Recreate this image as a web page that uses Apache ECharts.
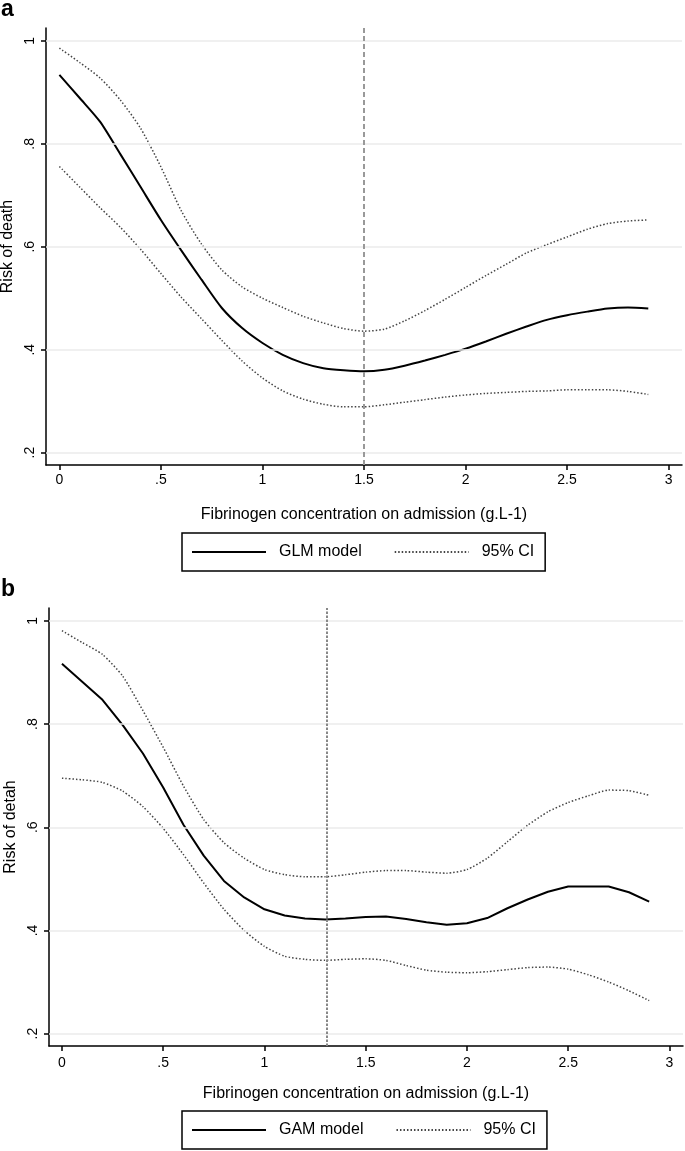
<!DOCTYPE html>
<html><head><meta charset="utf-8">
<script src="https://cdn.jsdelivr.net/npm/echarts@6/dist/echarts.min.js"></script>
<style>html,body{margin:0;padding:0;background:#fff}#c{width:685px;height:1151px}</style>
</head><body><div id="c"></div>
<script>
const fibrinogen = [0,0.1,0.2,0.3,0.4,0.5,0.6,0.7,0.8,0.9,1.0,1.1,1.2,1.3,1.4,1.5,1.6,1.7,1.8,1.9,2.0,2.1,2.2,2.3,2.4,2.5,2.6,2.7,2.8,2.9];
const glmModel = [0.934,0.889,0.843,0.780,0.716,0.652,0.593,0.536,0.481,0.442,0.413,0.390,0.374,0.364,0.360,0.358,0.361,0.369,0.379,0.390,0.402,0.416,0.431,0.445,0.458,0.467,0.474,0.480,0.482,0.480];
const glmUpper = [0.986,0.958,0.928,0.885,0.830,0.755,0.670,0.605,0.555,0.522,0.500,0.482,0.465,0.452,0.441,0.436,0.440,0.456,0.476,0.498,0.521,0.544,0.566,0.588,0.604,0.619,0.634,0.645,0.650,0.652];
const glmLower = [0.756,0.716,0.676,0.638,0.595,0.548,0.502,0.460,0.418,0.378,0.345,0.320,0.304,0.294,0.289,0.289,0.293,0.298,0.303,0.308,0.312,0.315,0.317,0.319,0.320,0.322,0.322,0.322,0.319,0.313];
const gamModel = [0.917,0.882,0.847,0.798,0.743,0.677,0.605,0.545,0.496,0.464,0.441,0.429,0.423,0.421,0.423,0.426,0.427,0.422,0.416,0.411,0.414,0.424,0.443,0.460,0.475,0.485,0.485,0.485,0.474,0.456];
const gamUpper = [0.981,0.958,0.935,0.893,0.826,0.755,0.680,0.615,0.570,0.540,0.518,0.508,0.504,0.504,0.508,0.513,0.516,0.516,0.513,0.511,0.518,0.540,0.572,0.604,0.630,0.648,0.661,0.672,0.671,0.662];
const gamLower = [0.695,0.692,0.687,0.670,0.640,0.598,0.547,0.492,0.441,0.400,0.369,0.350,0.344,0.342,0.344,0.345,0.342,0.332,0.323,0.319,0.318,0.320,0.324,0.328,0.329,0.325,0.314,0.300,0.283,0.264];
const xTicks = [0,0.5,1,1.5,2,2.5,3];
const xTickLabels = ['0','.5','1','1.5','2','2.5','3'];
const yTicks = [0.2,0.4,0.6,0.8,1];
const yTickLabels = ['.2','.4','.6','.8','1'];
const glmCutoff = 1.5;
const gamCutoff = 1.31;

const FONT = '"Liberation Sans", Arial, Helvetica, sans-serif';
const pts = arr => fibrinogen.map((x, i) => [x, arr[i]]);
const lab = (ticks, labels) => v => {
  const i = ticks.findIndex(t => Math.abs(t - v) < 1e-6);
  return i < 0 ? '' : labels[i];
};

function xAxisCfg(gi, min, max, labelMargin, nameGap) {
  return {
    type: 'value', gridIndex: gi, min: min, max: max,
    name: 'Fibrinogen concentration on admission (g.L-1)',
    nameLocation: 'middle', nameGap: nameGap,
    nameTextStyle: { fontSize: 16, color: '#000', fontFamily: FONT },
    axisLine: { show: true, onZero: false, lineStyle: { color: '#000', width: 1.5 } },
    axisTick: { show: true, length: 5, customValues: xTicks, lineStyle: { color: '#000', width: 1.5 } },
    axisLabel: { customValues: xTicks, formatter: lab(xTicks, xTickLabels), fontSize: 14, color: '#000', fontFamily: FONT, margin: labelMargin },
    splitLine: { show: false }
  };
}
function yAxisCfg(gi, name) {
  return {
    type: 'value', gridIndex: gi, min: 0.176, max: 1.025,
    name: name, nameLocation: 'middle', nameGap: 26,
    nameTextStyle: { fontSize: 16, color: '#000', fontFamily: FONT },
    axisLine: { show: true, onZero: false, lineStyle: { color: '#000', width: 1.5 } },
    axisTick: { show: true, length: 5, customValues: yTicks, lineStyle: { color: '#000', width: 1.5 } },
    axisLabel: { customValues: yTicks, formatter: lab(yTicks, yTickLabels), rotate: 90, fontSize: 14, color: '#000', fontFamily: FONT, margin: 9 },
    splitLine: { show: false }
  };
}
const mainStyle = { color: '#000', width: 2 };
const ciStyle = { color: '#444', width: 1.5, type: [1.5, 2] };
function line(name, idx, data, style, smooth) {
  return {
    type: 'line', name: name, xAxisIndex: idx, yAxisIndex: idx, data: pts(data),
    symbol: 'none', smooth: smooth, lineStyle: style, itemStyle: { color: style.color },
    z: 3, silent: true
  };
}
function gridSeries(idx) {
  return {
    type: 'line', name: 'grid' + idx, xAxisIndex: idx, yAxisIndex: idx, data: [], z: 1, silent: true,
    markLine: {
      silent: true, symbol: ['none', 'none'], label: { show: false },
      lineStyle: { color: '#ebebeb', width: 1.5, type: 'solid' },
      data: yTicks.map(v => ({ yAxis: v }))
    }
  };
}
function refSeries(idx, xv, dash, color) {
  return {
    type: 'line', name: 'ref' + idx, xAxisIndex: idx, yAxisIndex: idx, data: [], z: 2, silent: true,
    markLine: {
      silent: true, symbol: ['none', 'none'], label: { show: false },
      lineStyle: { color: color, width: 2, type: dash },
      data: [{ xAxis: xv }]
    }
  };
}
function legendCfg(top, names) {
  return {
    data: names, left: 182, top: top, orient: 'horizontal',
    itemWidth: 74, itemHeight: 14, itemGap: 32,
    padding: [11, 11, 11, 9], borderColor: '#000', borderWidth: 1.5, borderRadius: 0,
    backgroundColor: '#fff', selectedMode: false,
    itemStyle: { opacity: 0, borderWidth: 0 },
    textStyle: { fontSize: 16, color: '#000', fontFamily: FONT, padding: [0, 0, 0, 8] }
  };
}

const chart = echarts.init(document.getElementById('c'), null, { renderer: 'canvas' });
chart.setOption({
  animation: false,
  backgroundColor: '#fff',
  title: [
    { text: 'a', left: 1, top: -2, padding: 0, textStyle: { fontSize: 23, fontWeight: 'bold', color: '#000', fontFamily: FONT } },
    { text: 'b', left: 1, top: 578, padding: 0, textStyle: { fontSize: 23, fontWeight: 'bold', color: '#000', fontFamily: FONT } }
  ],
  grid: [
    { left: 46, right: 3, top: 28, height: 437, containLabel: false, outerBoundsMode: 'none' },
    { left: 49, right: 2, top: 608, height: 438, containLabel: false, outerBoundsMode: 'none' }
  ],
  xAxis: [xAxisCfg(0, -0.066, 3.066, 8, 42), xAxisCfg(1, -0.064, 3.067, 10, 40)],
  yAxis: [yAxisCfg(0, 'Risk of death'), yAxisCfg(1, 'Risk of detah')],
  legend: [legendCfg(533, ['GLM model', '95% CI']), legendCfg(1111, ['GAM model', '95% CI'])],
  series: [
    gridSeries(0),
    refSeries(0, glmCutoff, [5, 3], '#999'),
    line('GLM model', 0, glmModel, mainStyle, 0.25),
    line('95% CI', 0, glmUpper, ciStyle, 0.25),
    line('95% CI', 0, glmLower, ciStyle, 0.25),
    gridSeries(1),
    refSeries(1, gamCutoff, [2.5, 1.5], '#888'),
    line('GAM model', 1, gamModel, mainStyle, false),
    line('95% CI', 1, gamUpper, ciStyle, 0.2),
    line('95% CI', 1, gamLower, ciStyle, 0.2)
  ]
});
</script></body></html>
